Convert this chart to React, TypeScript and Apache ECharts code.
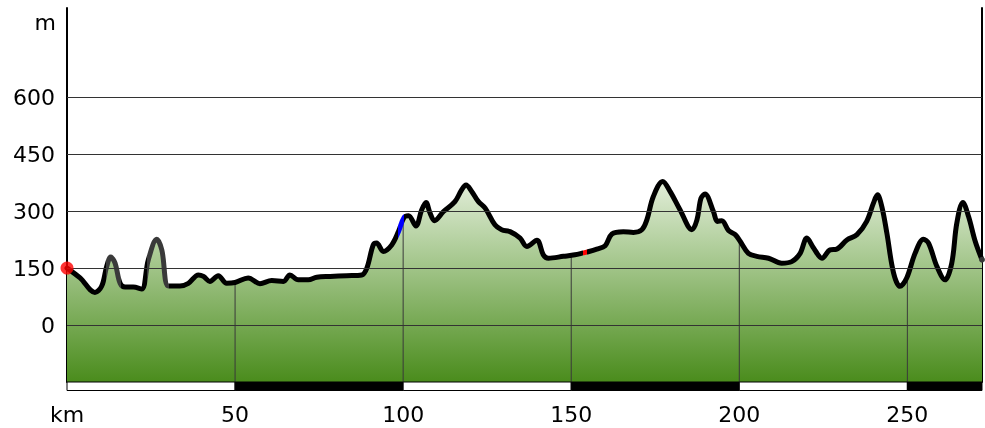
import React, { useEffect, useRef } from "react";
import * as echarts from "echarts";

const kms = [0, 3.9, 8.3, 10.3, 11.8, 13.0, 14.3, 15.8, 17.3, 19.7, 22.2, 24.2, 26.7, 28.2, 30.2, 33.6, 36.1, 39.1, 40.6, 42.5, 45.0, 47.5, 50, 53.9, 57.4, 60.9, 64.4, 66.3, 68.8, 71.8, 74.3, 78.3, 83.2, 87.7, 89.2, 91.1, 92.1, 94.1, 96.6, 98.6, 100.3, 101.6, 103.8, 105.5, 106.8, 108.0, 109.3, 112.0, 115.4, 117.4, 118.7, 120.4, 122.4, 124.4, 127.3, 129.3, 131.8, 134.8, 136.8, 139.8, 141.7, 143.2, 147.7, 151.1, 153.6, 154.6, 157.6, 160.1, 162.1, 165.5, 168.5, 171.0, 172.5, 174.4, 177.2, 179.4, 182.4, 185.9, 187.4, 188.6, 189.8, 192.3, 193.5, 194.8, 196.8, 198.8, 200.3, 202.7, 205.2, 208.7, 212.6, 215.6, 218.1, 220.1, 222.1, 224.6, 227.0, 229.0, 232.0, 235.0, 237.9, 239.9, 241.1, 242.4, 243.9, 245.9, 247.8, 249.8, 252.3, 254.8, 256.3, 258.8, 261.2, 263.2, 264.7, 266.5, 268.2, 270.2, 272.2];

const elevations = [150, 124, 86, 102, 154, 179, 163, 110, 100, 100, 95, 172, 226, 198, 103, 103, 110, 132, 128, 115, 130, 110, 112, 124, 109, 117, 115, 132, 119, 119, 126, 128, 130, 132, 150, 211, 216, 194, 211, 246, 284, 288, 261, 303, 323, 295, 275, 299, 325, 356, 369, 352, 325, 308, 264, 251, 246, 229, 207, 223, 185, 176, 181, 185, 190, 192, 200, 209, 240, 246, 244, 251, 277, 338, 378, 352, 303, 251, 277, 334, 345, 299, 273, 275, 249, 238, 220, 189, 181, 176, 163, 167, 189, 229, 203, 176, 198, 200, 224, 238, 273, 321, 343, 312, 242, 137, 102, 124, 189, 226, 216, 154, 119, 163, 268, 323, 286, 220, 172];

const xTicks = [50, 100, 150, 200, 250];
const yGridValues = [0, 150, 300, 450, 600];

const scaleStarts = [0, 50, 100, 150, 200, 250];
const scaleEnds = [50, 100, 150, 200, 250, 272.2];
const scaleDark = [0, 1, 0, 1, 0, 1];

const segStarts = [-1, 11.5, 16, 23.8, 30.3, 98.5, 100.4, 153.5, 154.7];
const segEnds = [11.5, 16, 23.8, 30.3, 98.5, 100.4, 153.5, 154.7, 300];
const segColors = ["#000000", "#3a3a3a", "#000000", "#3a3a3a", "#000000", "#0000ff", "#000000", "#ff0000", "#000000"];

const X_MAX = 272.2;
const Y_MIN = -150;
const Y_MAX = 835;

function interp(x: number): number {
  for (let i = 0; i < kms.length - 1; i++) {
    if (x >= kms[i] && x <= kms[i + 1]) {
      const t = (x - kms[i]) / (kms[i + 1] - kms[i]);
      return elevations[i] + t * (elevations[i + 1] - elevations[i]);
    }
  }
  return elevations[elevations.length - 1];
}

const FONT = "DejaVu Sans";

export default function App() {
  const ref = useRef<HTMLDivElement>(null);
  useEffect(() => {
    if (!ref.current) return;
    const chart = echarts.init(ref.current, null, { renderer: "svg" });
    const profile = kms.map((k, i) => [k, elevations[i]]);
    const option: any = {
      animation: false,
      grid: { left: 67, right: 3, top: 8, bottom: 46 },
      xAxis: {
        type: "value",
        min: 0,
        max: X_MAX,
        interval: 50,
        axisLine: { show: false },
        axisTick: { show: false },
        splitLine: { show: false },
        axisLabel: {
          formatter: (v: number) => (v === 0 ? "km" : v % 50 === 0 ? String(v) : ""),
          fontSize: 22,
          color: "#000",
          fontFamily: FONT,
          margin: 21,
        },
      },
      yAxis: [
        {
          type: "value",
          min: Y_MIN,
          max: Y_MAX,
          interval: 150,
          axisLine: { show: true, lineStyle: { color: "#000", width: 2 } },
          axisTick: { show: false },
          splitLine: { show: false },
          axisLabel: {
            formatter: (v: number) => (v >= 0 && v <= 600 ? String(v) : ""),
            fontSize: 22,
            color: "#000",
            fontFamily: FONT,
            margin: 12,
          },
        },
        {
          type: "value",
          position: "right",
          min: Y_MIN,
          max: Y_MAX,
          interval: 150,
          axisLine: { show: true, lineStyle: { color: "#000", width: 2 } },
          axisTick: { show: false },
          splitLine: { show: false },
          axisLabel: { show: false },
        },
      ],
      visualMap: {
        type: "piecewise",
        show: false,
        dimension: 0,
        seriesIndex: 2,
        pieces: segStarts.map((s, i) => ({ gte: s, lt: segEnds[i], color: segColors[i] })),
      },
      graphic: [
        {
          type: "text",
          x: 56,
          y: 22,
          style: { text: "m", fontSize: 22, fontFamily: FONT, fill: "#000", align: "right", verticalAlign: "middle" },
        },
      ],
      series: [
        {
          type: "line",
          data: profile,
          smooth: 0.35,
          showSymbol: false,
          z: 1,
          lineStyle: { width: 0 },
          areaStyle: {
            origin: "start",
            opacity: 1,
            color: new echarts.graphic.LinearGradient(0, 0, 0, 1, [
              { offset: 0, color: "#e2eed9" },
              { offset: 1, color: "#4a8c1c" },
            ]),
          },
          silent: true,
        },
        {
          type: "custom",
          z: 2,
          silent: true,
          data: xTicks.map((x) => [x, interp(x)]),
          renderItem: (params: any, api: any) => {
            const x = api.value(0);
            const b = api.coord([x, Y_MIN]);
            const t = api.coord([x, api.value(1)]);
            return {
              type: "line",
              shape: { x1: b[0], y1: b[1], x2: t[0], y2: t[1] },
              style: { stroke: "#3a3a3a", lineWidth: 1 },
            };
          },
          markLine: {
            silent: true,
            symbol: "none",
            label: { show: false },
            lineStyle: { color: "#333", width: 1, type: "solid" },
            data: yGridValues.map((v) => ({ yAxis: v })),
          },
        },
        {
          type: "line",
          data: profile,
          smooth: 0.35,
          showSymbol: false,
          z: 3,
          lineStyle: { width: 5, cap: "round", join: "round" },
          silent: true,
        },
        {
          type: "scatter",
          z: 5,
          clip: false,
          silent: true,
          symbolSize: 13,
          itemStyle: { color: "#ff0000" },
          data: [[kms[0], elevations[0]]],
        },
        {
          type: "scatter",
          z: 5,
          clip: false,
          silent: true,
          symbolSize: 6,
          itemStyle: { color: "#444" },
          data: [[kms[kms.length - 1], elevations[elevations.length - 1]]],
        },
        {
          type: "custom",
          z: 6,
          clip: false,
          silent: true,
          data: scaleStarts.map((s, i) => [s, scaleEnds[i], scaleDark[i]]),
          renderItem: (params: any, api: any) => {
            const s = api.coord([api.value(0), Y_MIN]);
            const e = api.coord([api.value(1), Y_MIN]);
            return {
              type: "rect",
              shape: { x: s[0], y: s[1], width: e[0] - s[0], height: 8.5 },
              style: { fill: api.value(2) === 1 ? "#000" : "#fff", stroke: "#000", lineWidth: 1 },
            };
          },
        },
      ],
    };
    chart.setOption(option);
    return () => chart.dispose();
  }, []);
  return <div ref={ref} style={{ position: "fixed", left: 0, top: 0, width: 985, height: 428 }} />;
}
